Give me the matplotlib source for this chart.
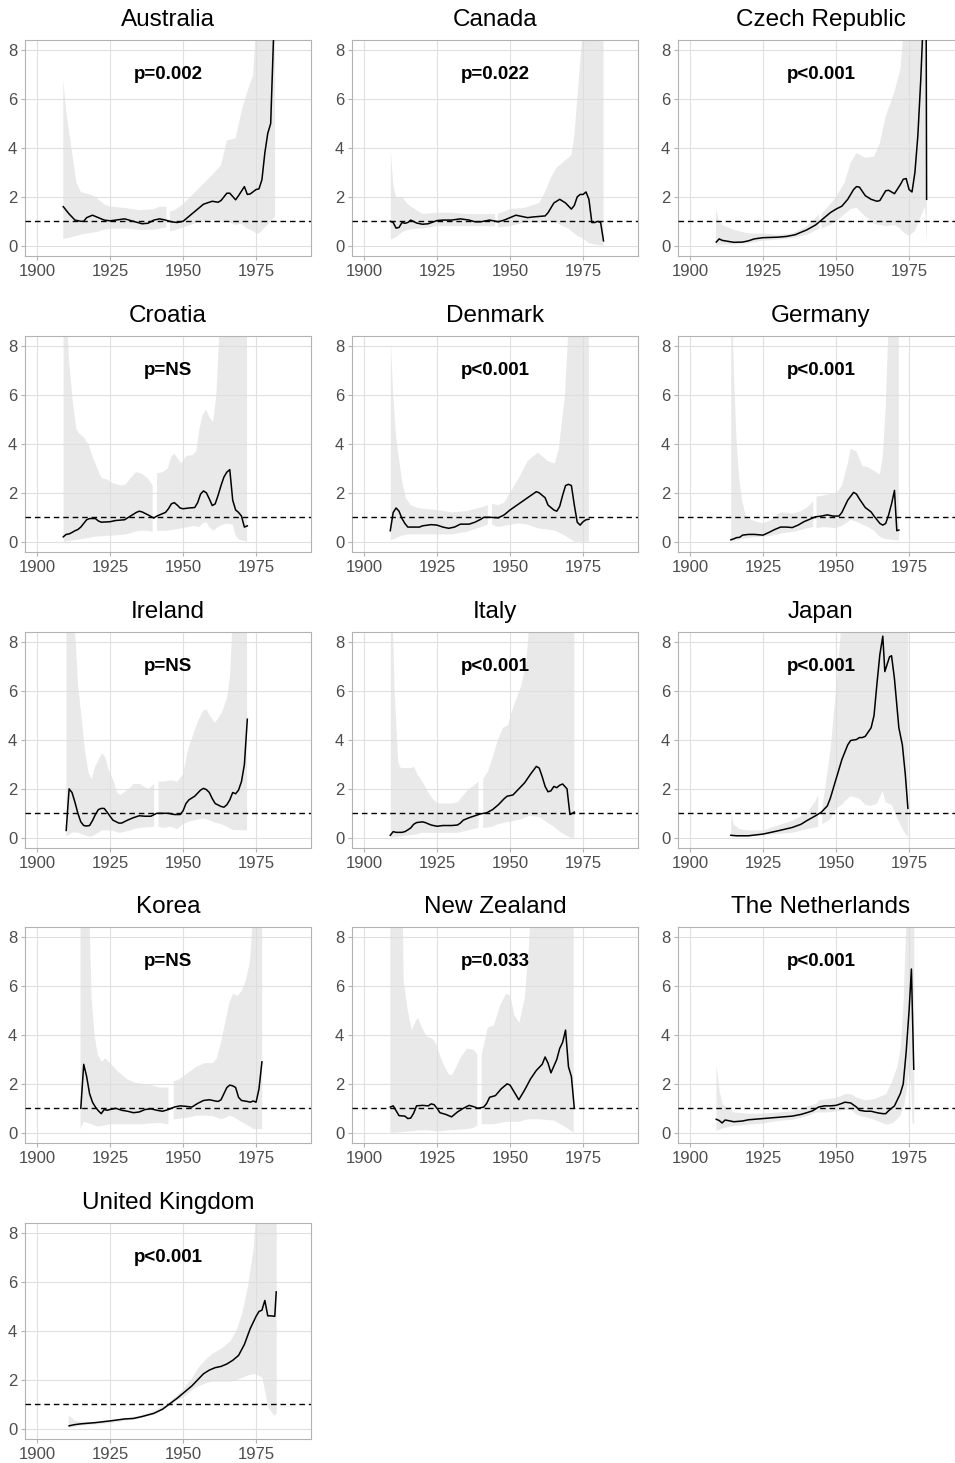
import numpy as np
import matplotlib
matplotlib.use("Agg")
import matplotlib.pyplot as plt

plt.rcParams['font.family'] = ['Liberation Sans', 'DejaVu Sans']
nan = np.nan

# ---- data: fitted line + ribbon (lo/hi), nan = ribbon gap ----
aus_yr = [1909,1911,1913,1915,1916,1917,1919,1921,1923,1925,1927,1930,1933,1936,1938,1940,1942,1944,1946,1948,
          1950,1952,1955,1957,1960,1962,1963,1965,1966,1968,1969,1971,1972,1973,1975,1976,1977,1978,1979,1980,1981]
aus_fit = [1.6,1.3,1.05,1.0,1.0,1.15,1.25,1.15,1.05,1.02,1.05,1.1,1.0,0.9,0.92,1.05,1.1,1.05,0.98,0.95,
           1.0,1.2,1.5,1.7,1.82,1.78,1.85,2.15,2.15,1.88,2.05,2.42,2.1,2.12,2.3,2.33,2.7,3.8,4.6,5.0,8.6]
aus_rib_yr = [1909,1910,1911.8,1913.5,1915,1918,1920,1923,1925,1930,1935,1940,1942,1944.3,1945,1945.5,
              1947,1950,1955,1960,1963,1965,1968,1970,1972,1974,1975,1976,1978,1980,1981.5]
aus_lo = [0.27,0.3,0.35,0.4,0.45,0.52,0.55,0.65,0.7,0.7,0.65,0.65,0.7,0.75,nan,0.6,
          0.62,0.75,0.95,1.05,1.0,1.0,0.85,0.9,0.7,0.6,0.5,0.5,0.75,1.0,1.2]
aus_hi = [6.8,5.5,4.0,2.6,2.2,2.1,2.0,1.7,1.6,1.55,1.45,1.5,1.6,1.6,nan,1.4,
          1.45,1.7,2.3,2.9,3.3,4.3,4.4,5.5,6.3,7.0,9.0,12,12,12,12]

can_yr = [1909,1910,1911,1912,1913,1914,1915,1916,1918,1920,1922,1925,1927,1930,1933,1936,1938,1940,1943,1946,
          1948,1950,1952,1954,1956,1958,1960,1962,1963,1965,1967,1969,1971,1972,1973,1974,1975,1976,1977,1978,
          1979,1980,1981,1982]
can_fit = [1.0,0.95,0.72,0.75,0.95,0.92,0.95,1.05,0.93,0.88,0.9,1.03,1.05,1.05,1.1,1.05,0.98,0.98,1.05,0.98,
           1.05,1.15,1.25,1.2,1.15,1.18,1.2,1.22,1.35,1.75,1.9,1.75,1.5,1.65,2.0,2.1,2.1,2.2,1.9,0.95,
           0.95,1.0,0.95,0.2]
can_rib_yr = [1909.2,1910,1911,1913,1915,1918,1920,1925,1930,1935,1940,1944.9,1945.3,1945.8,1948,
              1950,1955,1960,1962,1964,1966,1968,1970,1971,1972,1973,1975,1977,1979,1982]
can_lo = [0.25,0.3,0.35,0.55,0.65,0.7,0.7,0.8,0.8,0.8,0.8,0.8,nan,0.75,0.78,
          0.8,0.95,0.95,1.0,1.0,0.95,0.8,0.7,0.6,0.5,0.4,0.3,0.1,0.05,0.0]
can_hi = [3.9,2.5,2.0,2.0,1.7,1.45,1.3,1.35,1.35,1.3,1.3,1.3,nan,1.3,1.4,
          1.5,1.55,1.75,2.2,2.8,3.2,3.4,3.6,3.7,4.5,6.0,9.0,12,12,12]

cze_yr = [1909,1910,1911,1913,1915,1918,1920,1922,1925,1930,1933,1936,1940,1943,1945,1948,1950,1952,1954,1956,
          1957,1958,1960,1962,1964,1965,1967,1968,1970,1972,1973,1974,1975,1976,1977,1978,1979,1980.8,1981]
cze_fit = [0.15,0.28,0.22,0.18,0.14,0.15,0.2,0.28,0.33,0.35,0.38,0.45,0.65,0.85,1.05,1.35,1.5,1.62,1.9,2.3,
           2.42,2.4,2.05,1.9,1.82,1.85,2.25,2.27,2.13,2.5,2.72,2.75,2.3,2.2,3.0,4.5,6.8,12,1.9]
cze_rib_yr = [1908.9,1910,1911,1915,1920,1925,1930,1935,1940,1944.3,1944.7,1945,1948,1950,1953,
              1955,1957,1960,1963,1965,1967,1970,1972,1973,1975,1977,1979,1980.5,1981.1]
cze_lo = [0.0,0.03,0.05,0.05,0.1,0.2,0.25,0.3,0.45,0.7,nan,0.7,0.85,1.0,1.3,
          1.5,1.55,1.2,0.9,0.85,0.8,0.85,0.7,0.55,0.4,0.6,1.2,1.6,0.1]
cze_hi = [1.5,1.0,0.85,0.65,0.5,0.5,0.45,0.5,0.8,1.3,nan,1.3,1.7,2.0,2.6,
          3.4,3.8,3.6,3.65,4.2,5.3,6.3,7.2,8.6,12,12,12,12,12]

cro_yr = [1909,1910,1911,1912,1913,1914,1915,1916,1917,1918,1920,1921,1922,1925,1927,1930,1932,1934,1935,1936,
          1938,1940,1941,1943,1944,1945,1946,1947,1948,1949,1950,1952,1954,1955,1956,1957,1958,1959,1960,1961,
          1962,1963,1964,1965,1966,1967,1968,1969,1970,1971,1972]
cro_fit = [0.2,0.3,0.32,0.38,0.45,0.5,0.6,0.75,0.9,0.95,0.95,0.85,0.8,0.82,0.87,0.9,1.05,1.2,1.25,1.22,
           1.1,0.97,1.05,1.15,1.2,1.35,1.55,1.6,1.5,1.38,1.35,1.38,1.4,1.6,1.95,2.08,2.0,1.75,1.48,1.55,
           1.9,2.3,2.65,2.85,2.95,1.7,1.3,1.2,1.05,0.6,0.65]
cro_rib_yr = [1909.1,1910.5,1911,1912.2,1913.5,1914.7,1915.8,1917.6,1919.3,1921,1922.2,1924,1925.8,1928.7,1930.4,
              1932,1933.9,1935.6,1937.9,1939.6,1940.3,1941.1,1943,1944.8,1946,1947,1948.3,1949.4,1951,1953.3,
              1954.5,1955.6,1956.7,1958,1959,1960.3,1961.4,1962.6,1965,1967,1968,1969,1971.9]
cro_lo = [0.0,0.02,0.03,0.05,0.07,0.1,0.12,0.15,0.2,0.22,0.22,0.25,0.25,0.28,0.3,
          0.35,0.42,0.45,0.45,0.4,nan,0.45,0.45,0.45,0.48,0.5,0.52,0.55,0.58,0.65,
          0.62,0.6,0.75,0.8,0.6,0.45,0.55,0.65,0.75,0.7,0.25,0.1,0.0]
cro_hi = [12,8.5,7.4,5.8,4.6,4.4,4.3,4.0,3.4,2.9,2.6,2.55,2.4,2.3,2.35,
          2.6,2.85,2.8,2.6,2.3,nan,2.8,2.85,3.0,3.5,3.6,3.4,3.2,3.5,3.55,
          3.7,4.6,5.2,5.4,5.1,4.9,6.0,9.0,12,12,12,12,12]

den_yr = [1909,1910,1911,1912,1913,1914,1915,1917,1919,1920,1923,1925,1927,1929,1931,1933,1936,1938,1940,1941,
          1943,1946,1948,1950,1953,1956,1959,1960,1962,1963,1965,1966,1967,1968,1969,1970,1971,1972,1973,1974,
          1975,1976,1977]
den_fit = [0.45,1.2,1.38,1.25,0.95,0.75,0.6,0.6,0.6,0.65,0.7,0.68,0.6,0.55,0.6,0.72,0.72,0.8,0.92,1.0,
           1.0,0.98,1.1,1.3,1.55,1.8,2.05,2.0,1.8,1.5,1.3,1.25,1.45,1.9,2.3,2.35,2.3,1.5,0.8,0.68,
           0.82,0.9,0.92]
den_rib_yr = [1909.2,1910,1911,1912,1913,1914.3,1916,1918,1920,1925,1930,1935,1940,1942.4,1943,
              1943.8,1946,1948,1950,1953,1956,1959.6,1961,1963,1965.3,1966.7,1968.8,1970.1,1972,1974,1977]
den_lo = [0.05,0.1,0.15,0.2,0.25,0.28,0.3,0.3,0.3,0.3,0.3,0.4,0.6,0.7,nan,
          0.7,0.6,0.65,0.7,0.75,0.7,0.55,0.52,0.5,0.45,0.38,0.25,0.15,0.0,0.0,0.0]
den_hi = [8.2,6.0,4.3,3.4,2.5,1.8,1.5,1.4,1.35,1.3,1.2,1.25,1.4,1.5,nan,
          1.55,1.5,1.6,2.0,2.6,3.3,3.65,3.5,3.3,3.2,3.8,6.0,9.0,12,12,12]

ger_yr = [1914,1915,1916,1917,1918,1920,1922,1925,1927,1929,1931,1933,1935,1937,1939,1941,1943,1945,1947,1949,
          1951,1952,1954,1956,1957,1958,1960,1962,1963,1965,1966,1967,1968,1969,1970,1970.8,1971.5]
ger_fit = [0.08,0.12,0.17,0.18,0.27,0.3,0.3,0.27,0.38,0.5,0.6,0.6,0.58,0.68,0.82,0.92,1.02,1.05,1.1,1.05,
           1.05,1.2,1.7,2.02,1.95,1.75,1.4,1.22,1.05,0.75,0.68,0.75,1.1,1.55,2.1,0.45,0.48]
ger_rib_yr = [1914.1,1915,1916,1917,1918,1919,1920,1922,1925,1928,1930,1932,1935,1938,1940,
              1942.2,1942.7,1943.3,1946,1948,1950,1952,1954,1955,1957,1959,1961,1963,1965,1966,
              1967,1968,1971.5]
ger_lo = [0.0,0.03,0.06,0.1,0.12,0.14,0.15,0.18,0.2,0.25,0.3,0.35,0.4,0.48,0.55,
          0.6,nan,0.55,0.6,0.58,0.55,0.65,0.8,0.9,0.82,0.7,0.6,0.45,0.2,0.15,
          0.1,0.1,0.05]
ger_hi = [12,7.0,4.0,2.4,1.6,1.1,0.95,0.85,0.75,0.9,1.15,1.2,1.15,1.25,1.4,
          1.65,nan,1.85,1.9,1.95,1.95,2.3,3.2,3.8,3.7,3.1,3.05,2.9,2.75,3.5,
          5.5,9.0,12]

ire_yr = [1910,1911,1912,1913,1914,1915,1916,1917,1918,1919,1920,1921,1922,1923,1924,1925,1926,1928,1929,1931,
          1933,1935,1937,1939,1941,1943,1945,1947,1949,1950,1951,1952,1954,1956,1957,1958,1959,1960,1961,1963,
          1964,1965,1966,1967,1968,1969,1970,1971,1972]
ire_fit = [0.3,2.0,1.85,1.45,1.0,0.65,0.5,0.48,0.5,0.7,0.95,1.15,1.2,1.2,1.05,0.88,0.72,0.6,0.6,0.72,
           0.82,0.9,0.88,0.88,1.0,1.0,1.0,0.95,0.95,1.1,1.4,1.55,1.7,1.95,2.02,1.97,1.85,1.6,1.4,1.28,
           1.25,1.35,1.55,1.85,1.8,1.95,2.3,3.0,4.85]
ire_rib_yr = [1910.1,1912.3,1914.1,1915.2,1916.4,1917.6,1918.7,1919.9,1921.6,1922.2,1923.4,1924.5,1926.3,1927.4,
              1928.5,1930.3,1932,1933,1935.3,1936.4,1938.2,1940.1,1940.8,1941.6,1943.4,1945.7,1948,1950,
              1951.7,1953.4,1955.2,1956.9,1958,1959.2,1960.9,1963.2,1965,1966.1,1967,1971.9]
ire_lo = [0.05,0.22,0.2,0.15,0.1,0.05,0.05,0.12,0.25,0.3,0.3,0.3,0.28,0.22,
          0.2,0.25,0.3,0.35,0.4,0.42,0.43,0.45,nan,0.45,0.4,0.45,0.35,0.55,
          0.65,0.7,0.75,0.78,0.75,0.7,0.62,0.55,0.45,0.38,0.32,0.3]
ire_hi = [12,10,6.2,5.0,3.6,2.7,2.4,2.9,3.3,3.45,3.3,2.8,2.3,1.85,
          1.75,1.9,2.05,2.2,2.2,2.1,2.0,2.2,nan,2.3,2.3,2.35,2.3,2.6,
          3.6,4.2,4.8,5.2,5.25,5.0,4.7,5.1,5.7,6.6,9.0,12]

ita_yr = [1909,1910,1911,1913,1914,1915,1916,1917,1918,1920,1921,1923,1925,1927,1930,1932,1933,1934,1936,1938,
          1940,1942,1944,1946,1948,1949,1951,1953,1955,1957,1959,1960,1961,1962,1963,1964,1965,1966,1967,1968,
          1969.5,1970.5,1971,1972]
ita_fit = [0.1,0.25,0.22,0.22,0.25,0.32,0.4,0.55,0.62,0.65,0.62,0.52,0.47,0.5,0.5,0.52,0.6,0.72,0.82,0.9,
           0.98,1.02,1.15,1.35,1.6,1.7,1.75,2.0,2.25,2.6,2.92,2.85,2.5,2.1,1.88,1.92,2.1,2.05,2.15,2.2,
           2.0,0.95,0.98,1.05]
ita_rib_yr = [1909.2,1910.5,1911.7,1912.6,1914.3,1916,1917.2,1918.3,1920,1921.8,1923.5,1925.2,1927.5,1929.8,1932.1,
              1933.8,1935.5,1937.2,1939.2,1940,1940.8,1942.4,1944.1,1945.8,1947.6,1949.3,1950.2,1951.6,1953.8,
              1955.6,1956.7,1960,1963,1965,1967,1969,1971,1972]
ita_lo = [0.0,0.02,0.04,0.05,0.08,0.1,0.12,0.15,0.2,0.2,0.2,0.2,0.2,0.2,0.2,
          0.25,0.3,0.35,0.4,nan,0.4,0.42,0.45,0.55,0.6,0.65,0.65,0.7,0.75,
          0.85,0.9,0.85,0.6,0.45,0.25,0.1,0.0,0.0]
ita_hi = [12,6.0,3.1,2.85,2.85,2.85,2.9,2.6,2.3,1.9,1.6,1.4,1.4,1.4,1.45,
          1.7,1.95,2.1,2.3,nan,2.4,2.7,3.3,4.0,4.5,4.6,5.0,5.5,6.2,
          7.2,9.0,12,12,12,12,12,12,12]

jap_yr = [1914,1916,1920,1925,1930,1935,1938,1940,1943,1945,1947,1948,1950,1952,1954,1955,1957,1958,1959,1960,
          1962,1963,1964,1965,1966,1966.7,1968.3,1969,1970,1971.5,1972.7,1973.7,1974.6]
jap_fit = [0.1,0.08,0.08,0.15,0.28,0.42,0.55,0.7,0.9,1.05,1.3,1.6,2.4,3.2,3.8,3.98,4.02,4.1,4.1,4.15,
           4.5,5.0,6.3,7.5,8.25,6.8,7.4,7.45,6.5,4.5,3.8,2.6,1.2]
jap_rib_yr = [1914.1,1915,1917,1920,1925,1930,1935,1940,1943,1943.9,1944.5,1945.3,1946,1948,1950,
              1952,1953,1955,1958,1960,1962,1964,1966,1967,1969,1971,1973,1974.7]
jap_lo = [0.05,0.05,0.05,0.05,0.1,0.15,0.2,0.35,0.42,0.45,nan,0.55,0.6,0.75,1.2,
          1.35,1.5,1.7,1.6,1.35,1.3,1.4,1.9,1.45,1.35,0.8,0.3,0.0]
jap_hi = [0.95,0.55,0.35,0.3,0.3,0.5,0.7,1.0,1.5,1.75,nan,1.2,1.8,3.5,6.0,
          9.0,12,12,12,12,12,12,12,12,12,12,12,12]

kor_yr = [1915,1916,1917,1918,1919,1920,1921,1922,1923,1924,1925,1927,1929,1931,1933,1935,1937,1939,1941,1943,
          1945,1947,1949,1951,1953,1955,1957,1959,1961,1962,1963,1964,1965,1966,1967,1968,1969,1970,1972,1973,
          1974,1975,1976,1977]
kor_fit = [1.0,2.8,2.3,1.6,1.25,1.05,0.9,0.78,0.95,0.92,0.95,1.0,0.92,0.88,0.82,0.85,0.95,0.98,0.92,0.88,
           0.95,1.05,1.1,1.08,1.05,1.2,1.32,1.35,1.3,1.28,1.35,1.6,1.85,1.95,1.92,1.85,1.45,1.32,1.28,1.25,
           1.3,1.25,1.8,2.9]
kor_rib_yr = [1914.9,1916,1917.3,1918.7,1919.7,1920.8,1922.2,1923.3,1925,1927.8,1930.7,1933.5,1936.3,1939.1,1941.9,
              1945,1945.9,1946.8,1948.9,1951.7,1954.6,1957.4,1960.2,1961.6,1963,1964.4,1965.8,1967.2,1968.6,1970,
              1971.4,1972.9,1974,1977.1]
kor_lo = [0.15,0.45,0.4,0.35,0.3,0.25,0.28,0.3,0.35,0.35,0.35,0.35,0.35,0.38,0.4,
          0.35,nan,0.55,0.58,0.62,0.7,0.7,0.68,0.62,0.55,0.6,0.7,0.65,0.55,0.45,
          0.35,0.25,0.15,0.15]
kor_hi = [12,12,12,5.5,4.0,3.2,2.9,3.05,2.85,2.5,2.2,2.05,2.0,1.95,1.85,
          1.85,nan,2.1,2.2,2.45,2.7,2.85,2.85,3.05,3.7,4.5,5.3,5.7,5.6,5.8,
          6.2,7.0,9.0,12]

nz_yr = [1909,1910,1911,1912,1914,1915,1916,1917,1918,1920,1922,1923,1924,1925,1926,1928,1930,1932,1934,1936,
         1938,1939,1941,1942,1943,1945,1947,1949,1950,1951,1953,1955,1957,1959,1961,1962,1963,1964,1966,1967,
         1968,1969,1970,1971,1972]
nz_fit = [1.05,1.1,0.9,0.7,0.68,0.58,0.6,0.8,1.1,1.12,1.1,1.18,1.15,1.0,0.82,0.75,0.65,0.85,1.0,1.12,
          1.05,1.0,1.05,1.2,1.45,1.52,1.8,2.0,1.95,1.75,1.35,1.75,2.2,2.55,2.8,3.1,2.85,2.45,3.0,3.45,
          3.7,4.2,2.7,2.3,1.0]
nz_rib_yr = [1909,1912.9,1913.6,1915,1916.4,1917.8,1918.5,1919.9,1921.3,1923.4,1924.8,1926.2,1927.6,1929,1930.1,
             1931.6,1933.2,1935.3,1937.5,1938.8,1939.5,1940.3,1942.4,1944.5,1946.6,1948.7,1950.1,1951.5,1953.2,1955,
             1956.4,1957.1,1960,1965,1968,1970,1971.8]
nz_lo = [0.0,0.02,0.03,0.05,0.06,0.08,0.1,0.1,0.1,0.08,0.05,0.06,0.08,0.1,0.1,
         0.12,0.13,0.15,0.2,0.3,nan,0.35,0.35,0.35,0.4,0.45,0.45,0.45,0.45,0.52,
         0.55,0.55,0.55,0.5,0.3,0.15,0.0]
nz_hi = [12,12,6.2,5.0,4.2,4.6,4.7,4.3,3.95,3.85,3.6,3.1,2.7,2.4,2.35,
         2.7,3.1,3.45,3.4,3.2,nan,3.2,4.3,4.4,5.2,5.7,5.6,4.8,4.5,5.5,
         7.5,9.0,12,12,12,12,12]

net_yr = [1909,1910,1911,1912,1913,1915,1918,1920,1925,1930,1935,1938,1940,1942,1944,1946,1948,1950,1952,1953,
          1955,1957,1958,1960,1962,1964,1966,1967,1968,1970,1971,1972,1973,1974,1975,1975.8,1976.6]
net_fit = [0.55,0.5,0.4,0.52,0.5,0.45,0.48,0.53,0.58,0.63,0.68,0.75,0.82,0.9,1.05,1.1,1.1,1.12,1.2,1.25,
           1.22,1.05,0.92,0.88,0.88,0.82,0.78,0.78,0.9,1.1,1.35,1.6,2.0,3.3,5.0,6.7,2.6]
net_rib_yr = [1908.9,1910,1911,1913,1915,1920,1925,1930,1935,1940,1943,1944,1947,1950,1953,
              1955,1957,1960,1963,1965,1967,1969,1971,1972,1973,1974,1974.7,1975.5,1976,1976.6]
net_lo = [0.1,0.15,0.2,0.25,0.3,0.35,0.4,0.5,0.55,0.7,0.85,0.85,0.85,0.9,0.95,
          0.95,0.75,0.65,0.55,0.45,0.35,0.4,0.6,0.75,1.1,1.7,2.5,2.0,0.4,0.4]
net_hi = [2.8,1.7,1.2,1.0,0.85,0.8,0.8,0.85,0.9,1.1,1.2,1.35,1.4,1.45,1.6,
          1.6,1.45,1.35,1.4,1.5,1.6,2.1,2.8,3.5,5.5,9.0,12,12,12,12]

uk_yr = [1911,1913,1915,1920,1925,1930,1933,1936,1940,1943,1945,1948,1950,1953,1955,1957,1959,1961,1963,1965,
         1967,1969,1971,1973,1975,1976,1977,1978,1979,1980,1981.4,1981.9]
uk_fit = [0.12,0.17,0.2,0.25,0.32,0.4,0.42,0.5,0.63,0.8,0.98,1.25,1.45,1.75,2.0,2.25,2.4,2.5,2.55,2.65,
          2.8,3.0,3.45,4.1,4.6,4.8,4.85,5.25,4.62,4.62,4.6,5.6]
uk_rib_yr = [1910.7,1913,1915,1920,1925,1930,1935,1940,1945,1948,1950,1953,1955,1958,1960,
             1963,1966,1968,1970,1972,1974,1975,1977,1978,1979,1981,1981.9]
uk_lo = [0.05,0.1,0.15,0.2,0.25,0.35,0.45,0.6,0.95,1.2,1.3,1.6,1.75,1.9,1.95,
         1.95,1.95,2.0,2.1,2.2,2.25,2.25,2.1,1.5,0.9,0.55,0.65]
uk_hi = [0.55,0.35,0.3,0.3,0.35,0.45,0.55,0.75,1.1,1.4,1.65,2.1,2.5,2.9,3.1,
         3.3,3.6,4.0,4.7,5.8,7.4,9.0,12,12,12,12,12]

countries = ['Australia', 'Canada', 'Czech Republic', 'Croatia', 'Denmark', 'Germany', 'Ireland',
             'Italy', 'Japan', 'Korea', 'New Zealand', 'The Netherlands', 'United Kingdom']
pvals = ['p=0.002', 'p=0.022', 'p<0.001', 'p=NS', 'p<0.001', 'p<0.001', 'p=NS',
         'p<0.001', 'p<0.001', 'p=NS', 'p=0.033', 'p<0.001', 'p<0.001']

panels = [
    (aus_yr, aus_fit, aus_rib_yr, aus_lo, aus_hi),
    (can_yr, can_fit, can_rib_yr, can_lo, can_hi),
    (cze_yr, cze_fit, cze_rib_yr, cze_lo, cze_hi),
    (cro_yr, cro_fit, cro_rib_yr, cro_lo, cro_hi),
    (den_yr, den_fit, den_rib_yr, den_lo, den_hi),
    (ger_yr, ger_fit, ger_rib_yr, ger_lo, ger_hi),
    (ire_yr, ire_fit, ire_rib_yr, ire_lo, ire_hi),
    (ita_yr, ita_fit, ita_rib_yr, ita_lo, ita_hi),
    (jap_yr, jap_fit, jap_rib_yr, jap_lo, jap_hi),
    (kor_yr, kor_fit, kor_rib_yr, kor_lo, kor_hi),
    (nz_yr, nz_fit, nz_rib_yr, nz_lo, nz_hi),
    (net_yr, net_fit, net_rib_yr, net_lo, net_hi),
    (uk_yr, uk_fit, uk_rib_yr, uk_lo, uk_hi),
]

W, H = 955, 1463
fig = plt.figure(figsize=(W/100, H/100), dpi=100)

col_left = [25, 352, 678]   # pixel positions of the panel boxes
row_top = [40, 336, 632, 927, 1223]
pw, ph = 286, 216

for i, (name, pv, (yr, fit, ryr, lo, hi)) in enumerate(zip(countries, pvals, panels)):
    r, c = divmod(i, 3)
    ax = fig.add_axes([col_left[c]/W, 1 - (row_top[r] + ph)/H, pw/W, ph/H])
    ax.set_axisbelow(True)
    ax.grid(True, color='#e0e0e0', lw=0.8)
    ax.fill_between(ryr, lo, hi, color='#dedede', alpha=0.65, lw=0, zorder=2)
    ax.axhline(1, color='black', lw=1.0, ls=(0, (4, 2.8)), zorder=3)
    ax.plot(yr, fit, color='black', lw=1.1, zorder=4)
    ax.text(1945, 7.0, pv, ha='center', va='center', fontsize=13.5, fontweight='bold')
    ax.set_title(name, fontsize=17.5, pad=10)
    ax.set_xlim(1895.9, 1993.8)
    ax.set_ylim(-0.42, 8.42)
    ax.set_xticks([1900, 1925, 1950, 1975])
    ax.set_yticks([0, 2, 4, 6, 8])
    for s in ax.spines.values():
        s.set_color('#b3b3b3')
        s.set_linewidth(0.8)
    ax.tick_params(colors='#b3b3b3', length=3, width=0.8, labelcolor='#4d4d4d',
                   labelsize=12, pad=2.5)

fig.savefig('out.png', dpi=100)
